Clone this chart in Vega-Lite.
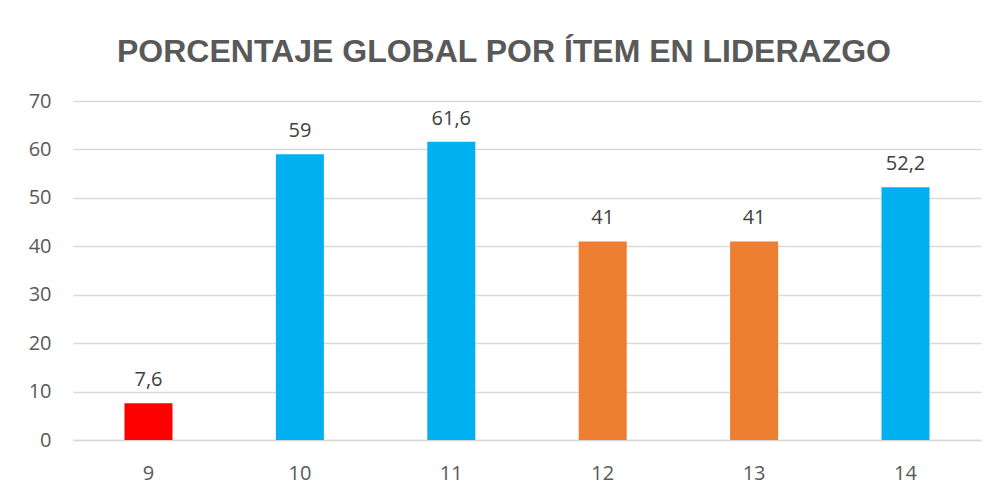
{
  "$schema": "https://vega.github.io/schema/vega-lite/v6.json",
  "width": 908,
  "height": 339,
  "autosize": {"type": "none"},
  "padding": {"left": 73, "top": 101, "right": 15, "bottom": 55},
  "background": "white",
  "title": {
    "text": "PORCENTAJE GLOBAL POR ÍTEM EN LIDERAZGO",
    "font": "Liberation Sans",
    "fontSize": 32,
    "fontWeight": "bold",
    "color": "#595959",
    "anchor": "middle",
    "dx": -23,
    "offset": 22
  },
  "data": {
    "values": [
      {"item": "9", "valor": 7.6, "etiqueta": "7,6", "nivel": "bajo"},
      {"item": "10", "valor": 59, "etiqueta": "59", "nivel": "alto"},
      {"item": "11", "valor": 61.6, "etiqueta": "61,6", "nivel": "alto"},
      {"item": "12", "valor": 41, "etiqueta": "41", "nivel": "medio"},
      {"item": "13", "valor": 41, "etiqueta": "41", "nivel": "medio"},
      {"item": "14", "valor": 52.2, "etiqueta": "52,2", "nivel": "alto"}
    ]
  },
  "encoding": {
    "x": {
      "field": "item",
      "type": "nominal",
      "sort": null,
      "scale": {"paddingInner": 0.683, "paddingOuter": 0.34},
      "axis": {
        "title": null,
        "labelAngle": 0,
        "labelFont": "Open Sans",
        "labelFontSize": 20,
        "labelColor": "#595959",
        "labelPadding": 23,
        "ticks": false,
        "tickSize": 0,
        "domainColor": "#D9D9D9",
        "domainWidth": 1.5,
        "grid": false
      }
    },
    "y": {
      "field": "valor",
      "type": "quantitative",
      "scale": {"domain": [0, 70], "nice": false},
      "axis": {
        "title": null,
        "values": [0, 10, 20, 30, 40, 50, 60, 70],
        "labelFont": "Open Sans",
        "labelFontSize": 20,
        "labelColor": "#595959",
        "labelPadding": 22,
        "ticks": false,
        "tickSize": 0,
        "domain": false,
        "grid": true,
        "gridColor": "#D9D9D9",
        "gridWidth": 1.5
      }
    }
  },
  "layer": [
    {
      "mark": {"type": "bar"},
      "encoding": {
        "color": {
          "field": "nivel",
          "type": "nominal",
          "scale": {"domain": ["bajo", "medio", "alto"], "range": ["#FF0000", "#ED7D31", "#00B0F0"]},
          "legend": null
        }
      }
    },
    {
      "mark": {"type": "text", "baseline": "alphabetic", "dy": -17, "font": "Open Sans", "fontSize": 20, "color": "#404040"},
      "encoding": {
        "text": {"field": "etiqueta"}
      }
    }
  ],
  "config": {
    "view": {"stroke": null}
  }
}
